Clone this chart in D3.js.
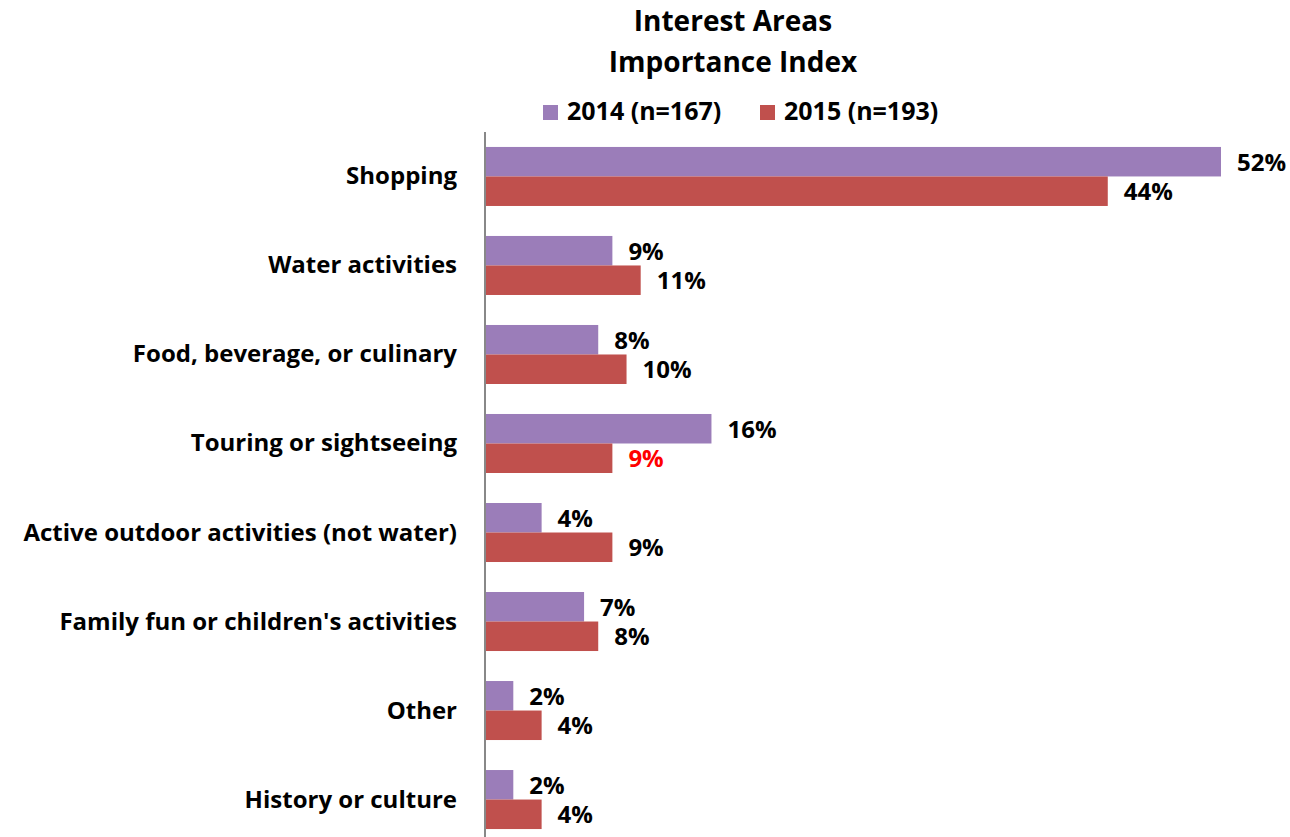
<!DOCTYPE html>
<html>
<head>
<meta charset="utf-8">
<script src="https://cdn.jsdelivr.net/npm/d3@7"></script>
<style>
  html, body { margin: 0; padding: 0; background: #fff; }
  svg { display: block; font-family: "Open Sans", Lato, sans-serif; font-weight: bold; }
</style>
</head>
<body>
<svg id="chart" width="1290" height="837"></svg>
<script>
// Interest areas, top to bottom
const categories = [
  "Shopping",
  "Water activities",
  "Food, beverage, or culinary",
  "Touring or sightseeing",
  "Active outdoor activities (not water)",
  "Family fun or children's activities",
  "Other",
  "History or culture"
];
const seriesNames = ["2014 (n=167)", "2015 (n=193)"];
const values2014 = [52, 9, 8, 16, 4, 7, 2, 2];
const values2015 = [44, 11, 10, 9, 9, 8, 4, 4];
const titleLines = ["Interest Areas", "Importance Index"];

const colors = ["#9B7DB9", "#C0504D"];
const FONT = "'Open Sans', Lato, sans-serif";
const svg = d3.select("#chart");

const x = d3.scaleLinear().domain([0, 52]).range([485, 1221]);
const y = d3.scaleBand().domain(categories).range([132, 844]).paddingInner(0.337).paddingOuter(0.168);
const sub = d3.scaleBand().domain([0, 1]).range([0, y.bandwidth()]);

// Title
svg.append("g").selectAll("text").data(titleLines).join("text")
  .attr("x", 733).attr("y", (d, i) => 31 + i * 41)
  .attr("text-anchor", "middle").attr("font-size", 28).attr("fill", "#000")
  .text(d => d);

// Legend
const legend = svg.append("g");
const legendX = [543, 760];
seriesNames.forEach((name, i) => {
  legend.append("rect").attr("x", legendX[i]).attr("y", 105).attr("width", 15).attr("height", 15).attr("fill", colors[i]);
  legend.append("text").attr("x", legendX[i] + 24).attr("y", 120).attr("font-size", 25).attr("fill", "#000").text(name);
});

// Bars
const rows = categories.map((c, i) => ({ c, vals: [values2014[i], values2015[i]] }));
const groups = svg.append("g").selectAll("g").data(rows).join("g")
  .attr("transform", d => `translate(0,${y(d.c)})`);

groups.selectAll("rect").data(d => d.vals.map((v, k) => ({ v, k }))).join("rect")
  .attr("x", x(0)).attr("y", d => sub(d.k))
  .attr("width", d => x(d.v) - x(0)).attr("height", sub.bandwidth())
  .attr("fill", d => colors[d.k]);

// Value labels (the Touring 2015 value is highlighted in red)
groups.selectAll("text").data((d, i) => d.vals.map((v, k) => ({ v, k, highlight: i === 3 && k === 1 }))).join("text")
  .attr("x", d => x(d.v) + 16).attr("y", d => sub(d.k) + sub.bandwidth() / 2 + 9)
  .attr("font-size", 24).attr("fill", d => d.highlight ? "#FF0000" : "#000")
  .text(d => d.v + "%");

// Category axis
const axis = svg.append("g").attr("transform", `translate(${x(0)},0)`)
  .call(d3.axisLeft(y).tickSize(0).tickPadding(28));
axis.select(".domain").attr("stroke", "#888").attr("stroke-width", 2).attr("d", "M0,132V837");
axis.selectAll("text").attr("font-size", 24).attr("fill", "#000").attr("dy", null).attr("y", 8)
  .attr("font-family", FONT).attr("font-weight", "bold");
</script>
</body>
</html>
